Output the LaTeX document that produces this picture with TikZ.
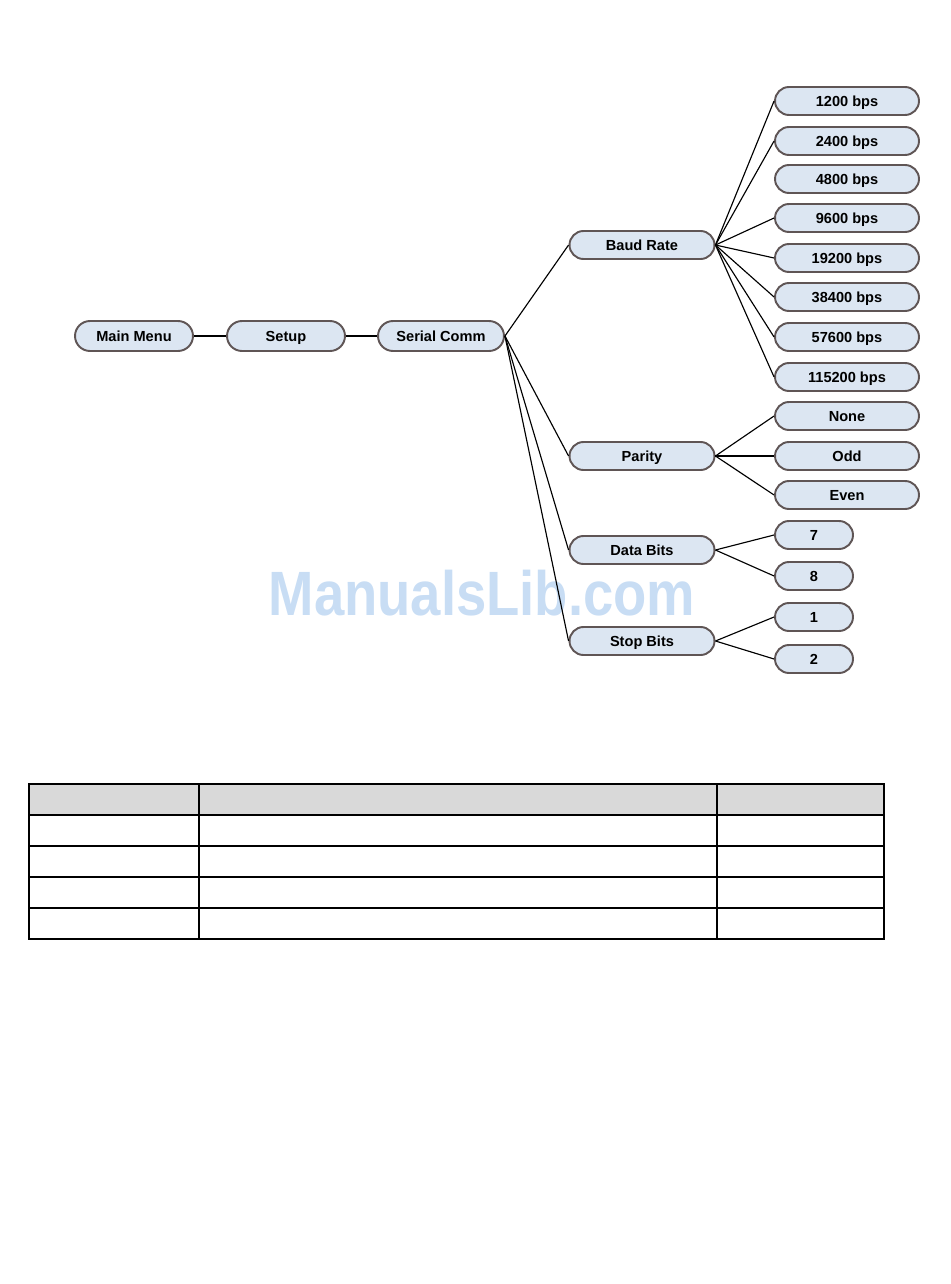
\documentclass[tikz,border=0pt]{standalone}
\usepackage{fontspec}
\setsansfont{Liberation Sans}
\usetikzlibrary{shapes.misc}
\usetikzlibrary{positioning}
\definecolor{mfill}{RGB}{220,230,242}
\definecolor{mrim}{RGB}{95,85,85}
\definecolor{mgray}{RGB}{217,217,217}
\definecolor{mmark}{RGB}{200,221,244}
\tikzset{menu/.style = {rounded rectangle, draw=mrim, fill=mfill, line width=1.1pt, minimum height=0.56cm, inner sep=0, text height=5.9pt, text depth=0pt, font=\sffamily\bfseries\fontsize{8.3}{9}\selectfont}}
\tikzset{topbox/.style = {menu, minimum width=2.36cm, minimum height=0.6cm}}
\tikzset{subbox/.style = {menu, minimum width=2.9cm}}
\tikzset{optbox/.style = {menu, minimum width=2.88cm}}
\tikzset{bitbox/.style = {menu, minimum width=1.56cm}}
\tikzset{link/.style = {line width=0.65pt}}
\tikzset{rule/.style = {line width=1.1pt}}

\begin{document}
\begin{tikzpicture}[x=0.02cm, y=-0.02cm]
      \useasboundingbox (0, 0) rectangle (950, 1284);
      \node (mark) [text=mmark, inner sep=0, font=\sffamily\bfseries\fontsize{31}{31}\selectfont] at (482, 593) {\scalebox{1}[1.15]{ManualsLib.com}};
      \node [topbox] (main) at (134, 336) {Main Menu};
      \node [topbox] (setup) at (286, 336) {Setup};
      \node [topbox, minimum width=2.52cm] (serial) at (441, 336) {Serial Comm};
      \node [subbox] (baud) at (642, 245) {Baud Rate};
      \node [subbox] (parity) at (642, 456) {Parity};
      \node [subbox] (databits) at (642, 550) {Data Bits};
      \node [subbox] (stopbits) at (642, 641) {Stop Bits};
      \node [optbox] (b1200) at (847, 101) {1200 bps};
      \node [optbox] (b2400) at (847, 141) {2400 bps};
      \node [optbox] (b4800) at (847, 179) {4800 bps};
      \node [optbox] (b9600) at (847, 218) {9600 bps};
      \node [optbox] (b19200) at (847, 258) {19200 bps};
      \node [optbox] (b38400) at (847, 297) {38400 bps};
      \node [optbox] (b57600) at (847, 337) {57600 bps};
      \node [optbox] (b115200) at (847, 377) {115200 bps};
      \node [optbox] (none) at (847, 416) {None};
      \node [optbox] (odd) at (847, 456) {Odd};
      \node [optbox] (even) at (847, 495) {Even};
      \node [bitbox] (d7) at (814, 535) {7};
      \node [bitbox] (d8) at (814, 576) {8};
      \node [bitbox] (s1) at (814, 617) {1};
      \node [bitbox] (s2) at (814, 659) {2};
      \draw [link] (main.east) -- (setup.west);
      \draw [link] (setup.east) -- (serial.west);
      \draw [link] (serial.east) -- (baud.west);
      \draw [link] (serial.east) -- (parity.west);
      \draw [link] (serial.east) -- (databits.west);
      \draw [link] (serial.east) -- (stopbits.west);
      \draw [link] (baud.east) -- (b1200.west);
      \draw [link] (baud.east) -- (b2400.west);
      \draw [link] (baud.east) -- (b9600.west);
      \draw [link] (baud.east) -- (b19200.west);
      \draw [link] (baud.east) -- (b38400.west);
      \draw [link] (baud.east) -- (b57600.west);
      \draw [link] (baud.east) -- (b115200.west);
      \draw [link] (parity.east) -- (none.west);
      \draw [link] (parity.east) -- (odd.west);
      \draw [link] (parity.east) -- (even.west);
      \draw [link] (databits.east) -- (d7.west);
      \draw [link] (databits.east) -- (d8.west);
      \draw [link] (stopbits.east) -- (s1.west);
      \draw [link] (stopbits.east) -- (s2.west);
      % empty table
      \fill [mgray] (29, 784) rectangle (884, 815);
      \draw [rule] (29, 784) rectangle (884, 939);
      \draw [rule] (29, 815) -- (884, 815);
      \draw [rule] (29, 846) -- (884, 846);
      \draw [rule] (29, 877) -- (884, 877);
      \draw [rule] (29, 908) -- (884, 908);
      \draw [rule] (199, 784) -- (199, 939);
      \draw [rule] (717, 784) -- (717, 939);
    \end{tikzpicture}
\end{document}
